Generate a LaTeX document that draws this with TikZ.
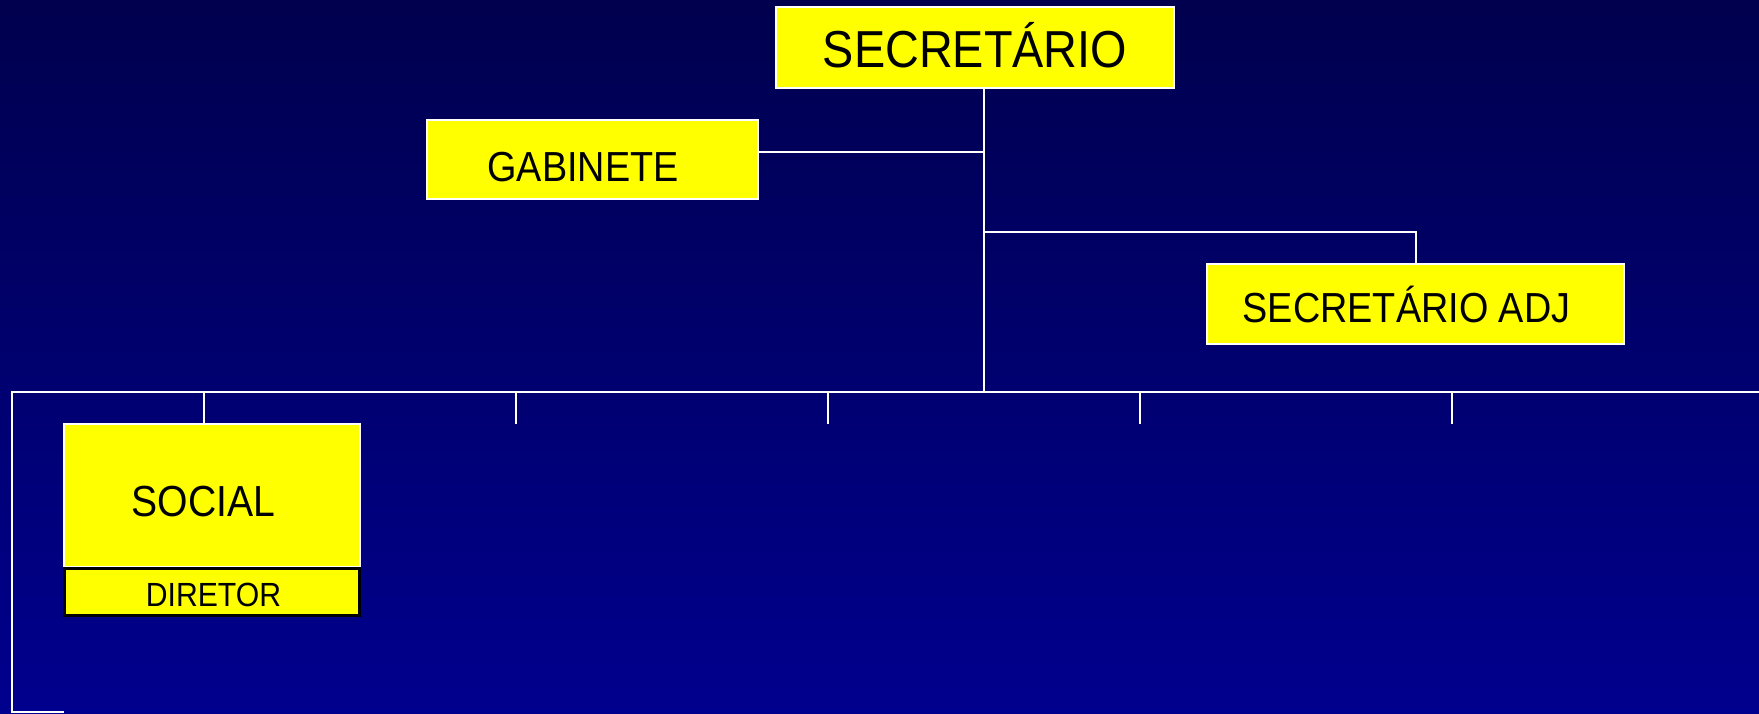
\documentclass[tikz,border=0pt]{standalone}
\usepackage{fontspec}
\setmainfont{Liberation Sans}[FakeStretch=0.9]
\definecolor{bgtop}{RGB}{0,0,78}
\definecolor{bgbot}{RGB}{0,0,142}
\definecolor{boxyellow}{RGB}{255,255,0}
\begin{document}
\begin{tikzpicture}[x=1pt,y=-1pt,
  ybox/.style={draw=white,line width=2pt,fill=boxyellow,inner sep=0pt,rectangle},
  dbox/.style={draw=black,line width=2.5pt,fill=boxyellow,inner sep=0pt,rectangle},
  lbl/.style={anchor=base,inner sep=0pt,text=black},
  conn/.style={draw=white,line width=2pt}]
\shade[top color=bgtop,bottom color=bgbot] (0,0) rectangle (1759,713);
\useasboundingbox (0,0) rectangle (1759,713);
% boxes
\node[ybox,minimum width=398pt,minimum height=81pt] (sec) at (975,47.5) {};
\node[ybox,minimum width=331pt,minimum height=79pt] (gab) at (592.5,159.5) {};
\node[ybox,minimum width=417pt,minimum height=80pt] (adj) at (1415.5,304) {};
\node[ybox,minimum width=296pt,minimum height=143pt] (soc) at (212,495.5) {};
\node[dbox,minimum width=295pt,minimum height=47pt] (dir) at (212,592) {};
% labels
\node[lbl,font=\fontsize{52}{52}\selectfont] (secT) at (975,67) {SECRETÁRIO};
\node[lbl,font=\fontsize{42}{42}\selectfont] (gabT) at (583,181) {GABINETE};
\node[lbl,font=\fontsize{42}{42}\selectfont] (adjT) at (1406.5,322) {SECRETÁRIO ADJ};
\node[lbl,font=\fontsize{43.5}{43.5}\selectfont] (socT) at (203.5,516) {SOCIAL};
\node[lbl,font=\fontsize{33.5}{33.5}\selectfont] (dirT) at (213.5,606) {DIRETOR};
% junctions
\coordinate (j0) at (984,392);
\coordinate (jg) at (984,152);
\coordinate (ja) at (984,232);
\coordinate (bl) at (12,392);
\coordinate (br) at (1759,392);
\coordinate (bot) at (12,712);
\coordinate (botr) at (64,712);
\coordinate (d2) at (516,424);
\coordinate (d3) at (828,424);
\coordinate (d4) at (1140,424);
\coordinate (d5) at (1452,424);
% connectors
\draw[conn] (sec.south -| j0) -- (j0);
\draw[conn] (jg) -- (jg -| gab.east);
\draw[conn] (ja) -| (adj.north);
\draw[conn] (br) -- (bl) -- (bot) -- (botr);
\draw[conn] (soc.north -| 204,0) -- (bl -| 204,0);
\draw[conn] (d2) -- (d2 |- bl);
\draw[conn] (d3) -- (d3 |- bl);
\draw[conn] (d4) -- (d4 |- bl);
\draw[conn] (d5) -- (d5 |- bl);
\end{tikzpicture}
\end{document}
